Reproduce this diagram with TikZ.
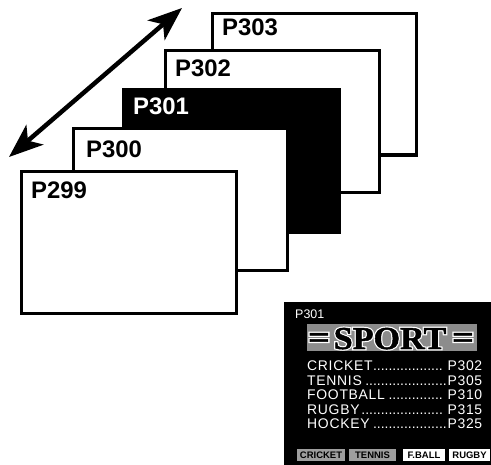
\documentclass[tikz,border=0pt]{standalone}
\usepackage{fontspec}
\setmainfont{Liberation Sans}
\newfontfamily\bannerfont[FakeBold=1.5]{Liberation Serif}
\newfontfamily\bannerhalo[FakeBold=9]{Liberation Serif}
\newfontfamily\listfont[LetterSpace=5]{Liberation Sans}
\usetikzlibrary{arrows.meta}
\begin{document}
\begin{tikzpicture}[x=1bp,y=-1bp,
  pagebox/.style={draw=black,fill=white,line width=3bp,anchor=north west,inner sep=0pt,outer sep=0pt},
  pagelabel/.style={font=\bfseries\fontsize{24}{24}\selectfont,anchor=base west,inner sep=0pt},
  navarrow/.style={line width=4.5bp,{Stealth[length=34bp,width=26bp,inset=9bp]}-{Stealth[length=34bp,width=26bp,inset=9bp]}},
  listline/.style={font=\listfont\fontsize{14}{14}\selectfont,text=white,anchor=base west,inner sep=0pt},
  bannertext/.style={font=\bannerfont\bfseries\fontsize{32}{32}\selectfont,anchor=base,inner sep=0pt},
  bannerglow/.style={font=\bannerhalo\bfseries\fontsize{32}{32}\selectfont,anchor=base,inner sep=0pt,text=white},
  button/.style={anchor=north west,inner sep=0pt,outer sep=0pt,font=\bfseries\fontsize{9.5}{9.5}\selectfont,text=black}
]
\useasboundingbox (0,0) rectangle (491,465);

% stacked pages, back to front
\node[pagebox,minimum width=204bp,minimum height=141bp] (p303) at (212,14) {};
\node[pagelabel] (l303) at (222,36) {P303};
\node[pagebox,minimum width=214bp,minimum height=141bp] (p302) at (165,51) {};
\node[pagelabel] (l302) at (175,77) {P302};
\node[pagebox,fill=black,minimum width=216bp,minimum height=143bp] (p301) at (123.5,89.5) {};
\node[pagelabel,text=white] (l301) at (133,115) {P301};
\node[pagebox,minimum width=214bp,minimum height=141bp] (p300) at (73,129) {};
\node[pagelabel] (l300) at (86,158) {P300};
\node[pagebox,minimum width=215bp,minimum height=141bp] (p299) at (21,172) {};
\node[pagelabel] (l299) at (31,199) {P299};

% double arrow
\coordinate (a1) at (9,157);
\coordinate (a2) at (182,8);
\draw[navarrow] (a1) -- (a2);

% teletext screen
\node[fill=black,anchor=north west,inner sep=0pt,outer sep=0pt,minimum width=207bp,minimum height=163bp] (tv) at (284,302) {};
\node[listline,font=\fontsize{12.5}{12.5}\selectfont] (tvp) at (295,318) {P301};
\node[fill=black!45,anchor=north west,inner sep=0pt,outer sep=0pt,minimum width=170bp,minimum height=27bp] (banner) at (307,324) {};
\node[bannerglow,xscale=1.07] (sporthalo) at (390,349) {SPORT};
\node[bannerglow,xscale=1.2] (eqlhalo) at (319,348) {=};
\node[bannerglow,xscale=1.2] (eqrhalo) at (463,348) {=};
\node[bannertext,xscale=1.07] (sport) at (390,349) {SPORT};
\node[bannertext,xscale=1.2] (eql) at (319,348) {=};
\node[bannertext,xscale=1.2] (eqr) at (463,348) {=};

\node[listline] (r1) at (307,370) {\hbox to 175bp{CRICKET\leaders\hbox{.}\hfill\,P302}};
\node[listline] (r2) at (307,385) {\hbox to 175bp{TENNIS\leaders\hbox{.}\hfill P305}};
\node[listline] (r3) at (307,399.5) {\hbox to 175bp{FOOTBALL\leaders\hbox{.}\hfill\,P310}};
\node[listline] (r4) at (307,414) {\hbox to 175bp{RUGBY\leaders\hbox{.}\hfill\,P315}};
\node[listline] (r5) at (307,428.5) {\hbox to 175bp{HOCKEY\leaders\hbox{.}\hfill P325}};

% fastext buttons
\node[button,fill=black!38,minimum width=48bp,minimum height=12bp] (b1) at (297,449) {CRICKET};
\node[button,fill=black!38,minimum width=47bp,minimum height=12bp] (b2) at (349,449) {TENNIS};
\node[button,fill=white,minimum width=42bp,minimum height=12bp] (b3) at (403,449) {F.BALL};
\node[button,fill=white,minimum width=41bp,minimum height=12bp] (b4) at (449,449) {RUGBY};
\end{tikzpicture}
\end{document}
